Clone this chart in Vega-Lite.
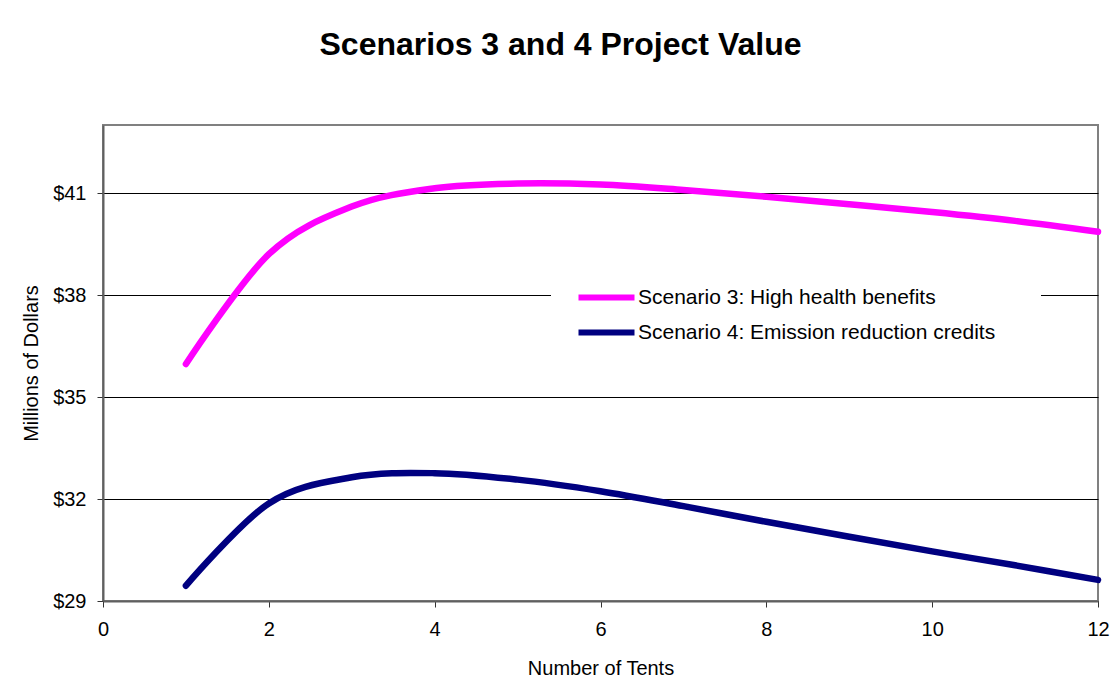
{
  "$schema": "https://vega.github.io/schema/vega-lite/v6.json",
  "width": 995,
  "height": 476,
  "autosize": {"type": "none"},
  "padding": {"left": 103, "top": 125, "right": 13, "bottom": 89},
  "background": "white",
  "title": {
    "text": "Scenarios 3 and 4 Project Value",
    "font": "Liberation Sans",
    "fontSize": 32,
    "fontWeight": "bold",
    "color": "black",
    "anchor": "middle",
    "baseline": "alphabetic",
    "offset": 38,
    "dx": -40
  },
  "config": {
    "font": "Liberation Sans",
    "view": {"stroke": "#808080", "strokeWidth": 2},
    "axis": {
      "labelFont": "Liberation Sans",
      "labelFontSize": 20,
      "labelColor": "black",
      "titleFont": "Liberation Sans",
      "titleFontSize": 20,
      "titleFontWeight": "normal",
      "titleColor": "black",
      "domainColor": "#606060",
      "domainWidth": 2,
      "tickColor": "#333333",
      "tickSize": 6,
      "tickWidth": 1
    },
    "legend": {
      "labelFont": "Liberation Sans",
      "labelFontSize": 21,
      "labelColor": "black"
    }
  },
  "data": {
    "values": [
      {"tents": 1, "value": 35.97, "scenario": "Scenario 3: High health benefits"},
      {"tents": 2, "value": 39.2, "scenario": "Scenario 3: High health benefits"},
      {"tents": 3, "value": 40.6, "scenario": "Scenario 3: High health benefits"},
      {"tents": 4, "value": 41.14, "scenario": "Scenario 3: High health benefits"},
      {"tents": 5, "value": 41.28, "scenario": "Scenario 3: High health benefits"},
      {"tents": 6, "value": 41.25, "scenario": "Scenario 3: High health benefits"},
      {"tents": 7, "value": 41.09, "scenario": "Scenario 3: High health benefits"},
      {"tents": 8, "value": 40.89, "scenario": "Scenario 3: High health benefits"},
      {"tents": 9, "value": 40.67, "scenario": "Scenario 3: High health benefits"},
      {"tents": 10, "value": 40.44, "scenario": "Scenario 3: High health benefits"},
      {"tents": 11, "value": 40.18, "scenario": "Scenario 3: High health benefits"},
      {"tents": 12, "value": 39.86, "scenario": "Scenario 3: High health benefits"},
      {"tents": 1, "value": 29.45, "scenario": "Scenario 4: Emission reduction credits"},
      {"tents": 2, "value": 31.87, "scenario": "Scenario 4: Emission reduction credits"},
      {"tents": 3, "value": 32.64, "scenario": "Scenario 4: Emission reduction credits"},
      {"tents": 4, "value": 32.76, "scenario": "Scenario 4: Emission reduction credits"},
      {"tents": 5, "value": 32.57, "scenario": "Scenario 4: Emission reduction credits"},
      {"tents": 6, "value": 32.23, "scenario": "Scenario 4: Emission reduction credits"},
      {"tents": 7, "value": 31.79, "scenario": "Scenario 4: Emission reduction credits"},
      {"tents": 8, "value": 31.33, "scenario": "Scenario 4: Emission reduction credits"},
      {"tents": 9, "value": 30.89, "scenario": "Scenario 4: Emission reduction credits"},
      {"tents": 10, "value": 30.46, "scenario": "Scenario 4: Emission reduction credits"},
      {"tents": 11, "value": 30.05, "scenario": "Scenario 4: Emission reduction credits"},
      {"tents": 12, "value": 29.62, "scenario": "Scenario 4: Emission reduction credits"}
    ]
  },
  "mark": {"type": "line", "interpolate": "cardinal", "strokeWidth": 6.5, "strokeCap": "round", "strokeJoin": "round"},
  "encoding": {
    "x": {
      "field": "tents",
      "type": "quantitative",
      "title": "Number of Tents",
      "scale": {"domain": [0, 12], "nice": false, "zero": false},
      "axis": {"values": [0, 2, 4, 6, 8, 10, 12], "grid": false, "labelPadding": 12, "titlePadding": 19, "labelFlush": false}
    },
    "y": {
      "field": "value",
      "type": "quantitative",
      "title": "Millions of Dollars",
      "scale": {"domain": [29, 43], "nice": false, "zero": false},
      "axis": {"values": [29, 32, 35, 38, 41], "grid": true, "gridColor": "black", "gridWidth": 1, "gridOpacity": 1, "labelExpr": "'$' + datum.value", "labelPadding": 11, "titlePadding": 11}
    },
    "color": {
      "field": "scenario",
      "type": "nominal",
      "scale": {
        "domain": ["Scenario 3: High health benefits", "Scenario 4: Emission reduction credits"],
        "range": ["#FF00FF", "#000080"]
      },
      "legend": {
        "title": null,
        "orient": "none",
        "legendX": 448,
        "legendY": 117,
        "padding": 45,
        "fillColor": "white",
        "symbolType": "M-4,0H4",
        "symbolSize": 196,
        "symbolStrokeWidth": 6,
        "labelOffset": 21,
        "labelLimit": 0,
        "rowPadding": 10
      }
    }
  }
}
